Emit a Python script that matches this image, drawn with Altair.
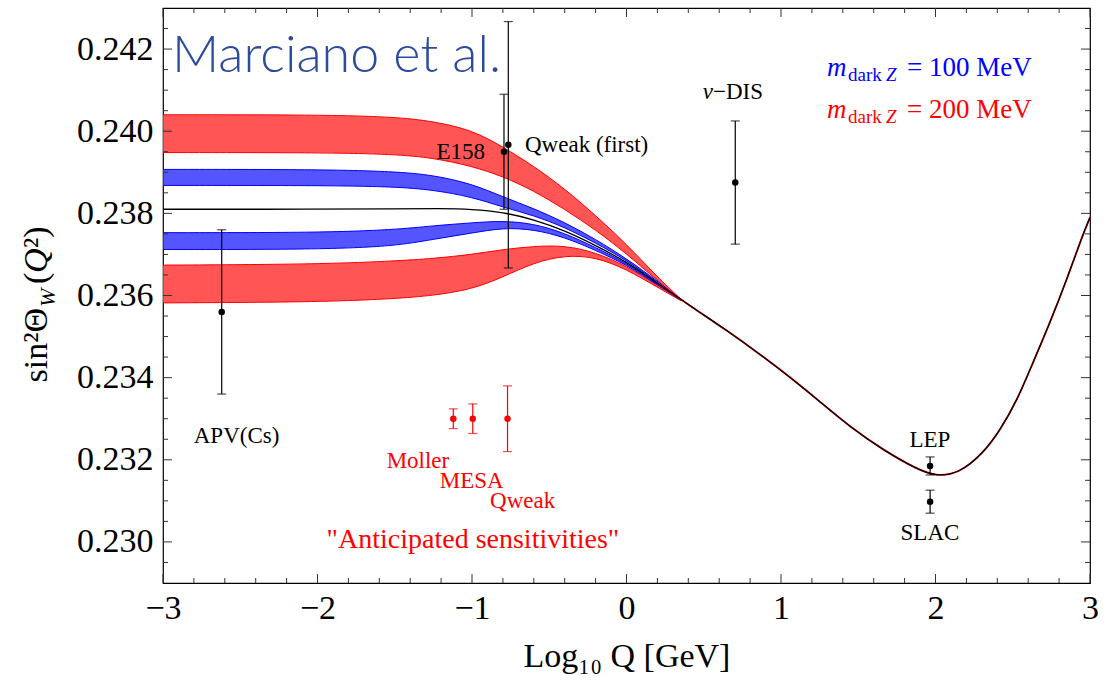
import altair as alt
import pandas as pd

# ---------------- data ----------------
# Standard-model running of sin^2 theta_W (black curve)
sm_logq = [-3.0, -2.0, -1.5, -1.2, -1.0, -0.8, -0.6, -0.4, -0.2, 0.0, 0.2, 0.43, 0.65,
           0.86, 1.08, 1.25, 1.45, 1.66, 1.88, 2.0, 2.15, 2.31, 2.42, 2.53, 2.63, 2.74,
           2.85, 2.95, 3.0]
sm_sin2 = [0.2381, 0.2381, 0.23811, 0.23812, 0.2381, 0.23803, 0.23785, 0.23758, 0.23722,
           0.23682, 0.2363, 0.2357, 0.23515, 0.23458, 0.23395, 0.23342, 0.23279, 0.23224,
           0.23177, 0.2316, 0.23166, 0.23216, 0.23273, 0.23346, 0.23436, 0.23533, 0.23639,
           0.23745, 0.2379]

# dark-Z bands
band_logq = [-3.0, -2.0, -1.5, -1.25, -1.0, -0.8, -0.6, -0.4, -0.2, 0.0, 0.2, 0.35]
red200_up_top = [0.2404, 0.2404, 0.24035, 0.24024, 0.24003, 0.23962, 0.23915, 0.2386,
                 0.23795, 0.23725, 0.23645, 0.23592]
red200_up_bot = [0.23948, 0.23948, 0.23944, 0.23935, 0.23915, 0.2389, 0.23855, 0.2381,
                 0.2376, 0.23702, 0.23636, 0.2359]
blue100_up_top = [0.23907, 0.23907, 0.23902, 0.23893, 0.23872, 0.2384, 0.23812, 0.23778,
                  0.23737, 0.2369, 0.23635, 0.23591]
blue100_up_bot = [0.23868, 0.23868, 0.23865, 0.23857, 0.2384, 0.23815, 0.23795, 0.23766,
                  0.23728, 0.23686, 0.23632, 0.2359]
blue100_lo_top = [0.23753, 0.23753, 0.2376, 0.2377, 0.23777, 0.23782, 0.23775, 0.23752,
                  0.23717, 0.23679, 0.23628, 0.2359]
blue100_lo_bot = [0.23712, 0.23712, 0.2372, 0.23737, 0.23752, 0.23765, 0.23761, 0.23742,
                  0.2371, 0.23675, 0.23626, 0.23589]
red200_lo_top = [0.23674, 0.23676, 0.23684, 0.2369, 0.237, 0.23712, 0.2372, 0.23722,
                 0.23705, 0.23672, 0.23625, 0.2359]
red200_lo_bot = [0.23582, 0.23584, 0.23592, 0.236, 0.23615, 0.23645, 0.2368, 0.23698,
                 0.23694, 0.23664, 0.2362, 0.23588]

# measurements (black)
meas_name = ["APV(Cs)", "E158", "Qweak (first)", "ν−DIS", "LEP", "SLAC"]
meas_logq = [-2.62, -0.793, -0.765, 0.704, 1.965, 1.965]
meas_sin2 = [0.2356, 0.2395, 0.23967, 0.23875, 0.23185, 0.23098]
meas_err = [0.0020, 0.0014, 0.0030, 0.0015, 0.00022, 0.00028]

# anticipated sensitivities (red)
ant_name = ["Moller", "MESA", "Qweak"]
ant_logq = [-1.121, -0.995, -0.77]
ant_sin2 = [0.2330, 0.2330, 0.2330]
ant_err = [0.00024, 0.00036, 0.0008]

# axis ticks
x_major = [-3, -2, -1, 0, 1, 2, 3]
x_minor = [-2.8, -2.6, -2.4, -2.2, -1.8, -1.6, -1.4, -1.2, -0.8, -0.6, -0.4, -0.2,
           0.2, 0.4, 0.6, 0.8, 1.2, 1.4, 1.6, 1.8, 2.2, 2.4, 2.6, 2.8]
y_major = [0.230, 0.232, 0.234, 0.236, 0.238, 0.240, 0.242]
y_minor = [0.2295, 0.2305, 0.231, 0.2315, 0.2325, 0.233, 0.2335, 0.2345, 0.235, 0.2355,
           0.2365, 0.237, 0.2375, 0.2385, 0.239, 0.2395, 0.2405, 0.241, 0.2415, 0.2425]

# ---------------- chart ----------------
W, H = 927, 575
SERIF = "Liberation Serif, Times New Roman, serif"
xs = alt.Scale(domain=[-3, 3], nice=False, zero=False)
ys = alt.Scale(domain=[0.229, 0.243], nice=False, zero=False)

x_axis = alt.Axis(title="Log₁₀ Q [GeV]", values=x_major, format="d", ticks=False,
                  tickSize=0, domain=False, grid=False, labelFont=SERIF, labelFontSize=34,
                  labelColor="black", labelPadding=8, labelFlush=False, labelOverlap=False,
                  titleFont=SERIF, titleFontSize=34, titleFontWeight="normal",
                  titleColor="black", titlePadding=14)
y_axis = alt.Axis(title=None, values=y_major, format=".3f", ticks=False, tickSize=0,
                  domain=False, grid=False, labelFont=SERIF, labelFontSize=34,
                  labelColor="black", labelPadding=10, labelOverlap=False, labelFlush=False)


def X(field):
    return alt.X(field, type="quantitative", scale=xs, axis=x_axis)


def Y(field):
    return alt.Y(field, type="quantitative", scale=ys, axis=y_axis)


layers = []


def band(top, bot, fill, edge):
    df = pd.DataFrame({"x": band_logq, "top": top, "bot": bot})
    return alt.Chart(df).mark_area(interpolate="basis", color=fill, fillOpacity=1,
                                   stroke=edge, strokeWidth=1, clip=True).encode(
        x=X("x"), y=Y("top"), y2="bot:Q")


layers.append(band(red200_up_top, red200_up_bot, "#ff5555", "#ff0000"))
layers.append(band(red200_lo_top, red200_lo_bot, "#ff5555", "#ff0000"))
layers.append(band(blue100_up_top, blue100_up_bot, "#5555ff", "#0000ff"))
layers.append(band(blue100_lo_top, blue100_lo_bot, "#5555ff", "#0000ff"))

sm_df = pd.DataFrame({"x": sm_logq, "y": sm_sin2})
# the collapsed bands continue under the SM curve at high Q
layers.append(alt.Chart(sm_df).transform_filter(alt.datum.x >= 0.2).mark_line(
    interpolate="basis", color="#ff0000", strokeWidth=1.8, clip=True).encode(x=X("x"), y=Y("y")))
layers.append(alt.Chart(sm_df).mark_line(interpolate="basis", color="black",
                                         strokeWidth=1.3, clip=True).encode(x=X("x"), y=Y("y")))


def errpoints(names, xv, yv, ev, color):
    df = pd.DataFrame({"name": names, "x": xv, "y": yv, "e": ev})
    df["lo"] = df["y"] - df["e"]
    df["hi"] = df["y"] + df["e"]
    base = alt.Chart(df)
    rule = base.mark_rule(color=color, strokeWidth=1.2).encode(x=X("x"), y=Y("lo"), y2="hi:Q")
    cap1 = base.mark_tick(orient="horizontal", color=color, size=9, thickness=1.2).encode(x=X("x"), y=Y("lo"))
    cap2 = base.mark_tick(orient="horizontal", color=color, size=9, thickness=1.2).encode(x=X("x"), y=Y("hi"))
    dot = base.mark_circle(color=color, size=42, opacity=1).encode(x=X("x"), y=Y("y"))
    return [rule, cap1, cap2, dot]


layers += errpoints(meas_name, meas_logq, meas_sin2, meas_err, "black")
layers += errpoints(ant_name, ant_logq, ant_sin2, ant_err, "#ff0000")


def txt(text, x, y, size=23, color="black", align="center", baseline="middle",
        font=SERIF, style="normal", weight="normal", dx=0, dy=0):
    df = pd.DataFrame({"x": [x], "y": [y], "t": [text]})
    return alt.Chart(df).mark_text(font=font, fontSize=size, color=color, align=align,
                                   baseline=baseline, fontStyle=style, fontWeight=weight,
                                   dx=dx, dy=dy).encode(x=X("x"), y=Y("y"), text="t:N")


# data labels
layers.append(txt(meas_name[0], -2.524, 0.23257))
layers.append(txt(meas_name[1], -0.916, 0.23949, align="right"))
layers.append(txt(meas_name[2], -0.657, 0.23966, align="left"))
layers.append(txt("ν", 0.702, 0.24095, style="italic", align="right", dx=-22))
layers.append(txt("−DIS", 0.702, 0.24095, align="left", dx=-22))
layers.append(txt(meas_name[4], 1.964, 0.23249))
layers.append(txt(meas_name[5], 1.964, 0.23022))
layers.append(txt(ant_name[0], -1.35, 0.23196, color="#ff0000"))
layers.append(txt(ant_name[1], -1.002, 0.23149, color="#ff0000"))
layers.append(txt(ant_name[2], -0.672, 0.2310, color="#ff0000"))
layers.append(txt('"Anticipated sensitivities"', -0.994, 0.23005, size=28, color="#ff0000"))

# title-like annotation
layers.append(txt("Marciano et al.", -2.942, 0.24145, size=52, color="#2d4b9b",
                  align="left", baseline="alphabetic", font="Lato", weight=300))

# legend texts
for yy, col, lab in [(0.24135, "#0000ff", "= 100 MeV"), (0.24033, "#ff0000", "= 200 MeV")]:
    layers.append(txt("m", 1.298, yy, size=27, color=col, align="left",
                      baseline="alphabetic", style="italic"))
    layers.append(txt("dark", 1.298, yy, size=19, color=col, align="left",
                      baseline="alphabetic", dx=21, dy=5))
    layers.append(txt("Z", 1.298, yy, size=19, color=col, align="left",
                      baseline="alphabetic", style="italic", dx=59, dy=5))
    layers.append(txt(lab, 1.298, yy, size=27, color=col, align="left",
                      baseline="alphabetic", dx=80))

# inward frame ticks
def ticks_x(vals, length):
    df = pd.DataFrame({"v": vals})
    b = alt.Chart(df)
    return [b.mark_rule(color="#333", strokeWidth=1).encode(x=X("v"), y=alt.value(H), y2=alt.value(H - length)),
            b.mark_rule(color="#333", strokeWidth=1).encode(x=X("v"), y=alt.value(0), y2=alt.value(length))]


def ticks_y(vals, length):
    df = pd.DataFrame({"v": vals})
    b = alt.Chart(df)
    return [b.mark_rule(color="#333", strokeWidth=1).encode(y=Y("v"), x=alt.value(0), x2=alt.value(length)),
            b.mark_rule(color="#333", strokeWidth=1).encode(y=Y("v"), x=alt.value(W), x2=alt.value(W - length))]


layers += ticks_x(x_major, 9) + ticks_x(x_minor, 5) + ticks_y(y_major, 9) + ticks_y(y_minor, 5)

# y-axis title pieces (rotated)
ytitle_df = pd.DataFrame({"a": [0]})
yb = alt.Chart(ytitle_df)
YT_X, YT_Y = -116, 300


def ypiece(text, size, dx, dy, align, style="normal"):
    return yb.mark_text(text=text, font=SERIF, fontSize=size, angle=270, align=align,
                        baseline="alphabetic", fontStyle=style, dx=dx, dy=dy,
                        color="black").encode(x=alt.value(YT_X), y=alt.value(YT_Y))


layers += [ypiece("sin²Θ", 34, 0, 0, "right"),
           ypiece("W", 22, 1, 8, "left", "italic"),
           ypiece("(", 34, 24, 0, "left"),
           ypiece("Q", 34, 35, 0, "left", "italic"),
           ypiece("²)", 34, 60, 0, "left")]

chart = alt.layer(*layers).properties(
    width=W, height=H, autosize=alt.AutoSizeParams(type="none"),
    padding={"left": 163, "top": 8, "right": 23, "bottom": 99},
    background="white",
).configure_view(stroke="black", strokeWidth=1.2)

chart.save("out.html", embed_options={"renderer": "svg", "actions": False})
